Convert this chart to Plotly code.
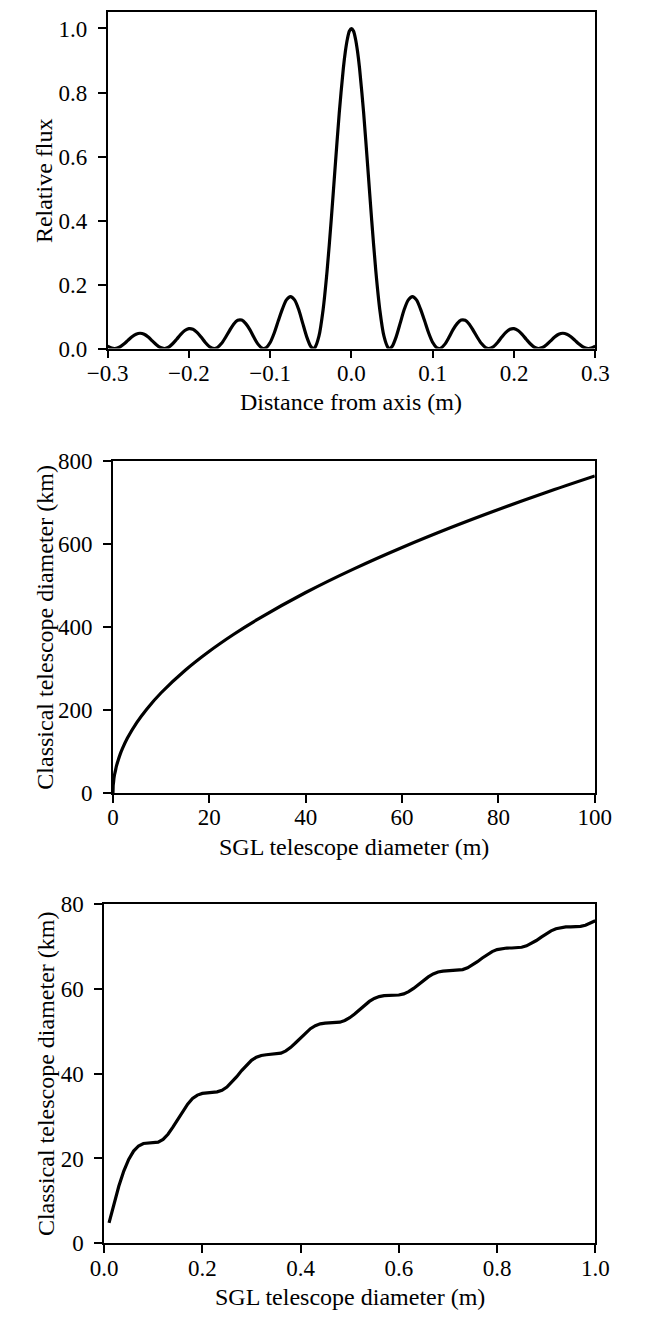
import plotly.graph_objects as go

# ---------------- data ----------------
# Panel 1: relative flux vs distance from axis (m)
distance_m = [-0.3, -0.295, -0.291, -0.285, -0.28, -0.275, -0.27, -0.265, -0.26, -0.255, -0.25,
              -0.245, -0.24, -0.235, -0.23, -0.225, -0.22, -0.215, -0.21, -0.205, -0.2,
              -0.195, -0.19, -0.185, -0.18, -0.175, -0.169, -0.165, -0.16, -0.155, -0.15,
              -0.145, -0.14, -0.135, -0.13, -0.125, -0.12, -0.115, -0.11, -0.108, -0.105,
              -0.1, -0.095, -0.09, -0.085, -0.08, -0.075, -0.07, -0.065, -0.06, -0.055,
              -0.05, -0.047, -0.045, -0.04, -0.035, -0.03, -0.025, -0.02, -0.015, -0.01,
              -0.0075, -0.005, -0.0025, 0.0, 0.0025,
              0.005, 0.0075, 0.01, 0.015, 0.02, 0.025, 0.03, 0.035, 0.04, 0.045, 0.047,
              0.05, 0.055, 0.06, 0.065, 0.07, 0.075, 0.08, 0.085, 0.09, 0.095,
              0.1, 0.105, 0.108, 0.11, 0.115, 0.12, 0.125, 0.13, 0.135, 0.14,
              0.145, 0.15, 0.155, 0.16, 0.165, 0.169, 0.175, 0.18, 0.185, 0.19,
              0.195, 0.2, 0.205, 0.21, 0.215, 0.22, 0.225, 0.23, 0.235, 0.24,
              0.245, 0.25, 0.255, 0.26, 0.265, 0.27, 0.275, 0.28, 0.285, 0.291,
              0.295, 0.3]
relative_flux = [0.0072, 0.0013, 0.0, 0.0048, 0.0139, 0.0256, 0.0368, 0.0449, 0.0477, 0.0444, 0.0357,
                 0.0238, 0.0118, 0.003, 0.0, 0.004, 0.0149, 0.0292, 0.0441, 0.0562, 0.0622,
                 0.0603, 0.0507, 0.0359, 0.0197, 0.0065, 0.0, 0.0031, 0.0154, 0.0345, 0.0562,
                 0.0762, 0.0882, 0.0888, 0.078, 0.0592, 0.0351, 0.0138, 0.0014, 0.0, 0.0024,
                 0.0188, 0.0485, 0.0865, 0.123, 0.152, 0.1622, 0.152, 0.1226, 0.0794, 0.0365,
                 0.0061, 0.0, 0.0028, 0.0385, 0.119, 0.242, 0.398, 0.569, 0.736, 0.875,
                 0.928, 0.967, 0.992, 1.0, 0.992,
                 0.967, 0.928, 0.875, 0.736, 0.569, 0.398, 0.242, 0.119, 0.0385, 0.0028, 0.0,
                 0.0061, 0.0365, 0.0794, 0.1226, 0.152, 0.1622, 0.152, 0.123, 0.0865, 0.0485,
                 0.0188, 0.0024, 0.0, 0.0014, 0.0138, 0.0351, 0.0592, 0.078, 0.0888, 0.0882,
                 0.0762, 0.0562, 0.0345, 0.0154, 0.0031, 0.0, 0.0065, 0.0197, 0.0359, 0.0507,
                 0.0603, 0.0622, 0.0562, 0.0441, 0.0292, 0.0149, 0.004, 0.0, 0.003, 0.0118,
                 0.0238, 0.0357, 0.0444, 0.0477, 0.0449, 0.0368, 0.0256, 0.0139, 0.0048, 0.0,
                 0.0013, 0.0072]

# Panel 2: classical telescope diameter (km) vs SGL telescope diameter (m), 0-100 m
sgl_diam_large_m = [0, 0.01, 0.02, 0.05, 0.1, 0.2, 0.3, 0.5, 0.7, 1, 1.5, 2, 3, 5, 7, 10,
                    15, 20, 25, 30, 40, 50, 60, 70, 80, 90, 100]
classical_diam_large_km = [0, 4.8, 9.4, 19.8, 23.7, 35.3, 43.1, 53.2, 64.2, 76.0, 93.7, 108.1,
                           132.5, 171.0, 202.3, 241.8, 296.2, 342.0, 382.4, 418.8, 483.6,
                           540.7, 592.3, 639.8, 684.0, 725.5, 764.7]

# Panel 3: classical telescope diameter (km) vs SGL telescope diameter (m), 0-1 m
sgl_diam_small_m = [0.01, 0.02, 0.03, 0.04, 0.05, 0.06, 0.07, 0.08, 0.09, 0.10,
                    0.11, 0.12, 0.13, 0.14, 0.15, 0.16, 0.17, 0.18, 0.19, 0.20,
                    0.21, 0.22, 0.23, 0.24, 0.25, 0.26, 0.27, 0.28, 0.29, 0.30,
                    0.31, 0.32, 0.33, 0.34, 0.35, 0.36, 0.37, 0.38, 0.39, 0.40,
                    0.41, 0.42, 0.43, 0.44, 0.45, 0.46, 0.47, 0.48, 0.49, 0.50,
                    0.51, 0.52, 0.53, 0.54, 0.55, 0.56, 0.57, 0.58, 0.59, 0.60,
                    0.61, 0.62, 0.63, 0.64, 0.65, 0.66, 0.67, 0.68, 0.69, 0.70,
                    0.71, 0.72, 0.73, 0.74, 0.75, 0.76, 0.77, 0.78, 0.79, 0.80,
                    0.81, 0.82, 0.83, 0.84, 0.85, 0.86, 0.87, 0.88, 0.89, 0.90,
                    0.91, 0.92, 0.93, 0.94, 0.95, 0.96, 0.97, 0.98, 0.99, 1.00]
classical_diam_small_km = [4.81, 9.39, 13.52, 17.02, 19.78, 21.74, 22.95, 23.52, 23.59, 23.68,
                           23.86, 24.48, 25.70, 27.37, 29.30, 31.22, 32.81, 34.12, 34.93, 35.34,
                           35.55, 35.59, 35.70, 36.08, 36.83, 37.93, 39.28, 40.72, 42.04, 43.12,
                           43.87, 44.28, 44.44, 44.51, 44.57, 44.82, 45.35, 46.18, 47.26, 48.45,
                           49.60, 50.58, 51.29, 51.73, 51.89, 51.93, 51.96, 52.12, 52.51, 53.16,
                           54.05, 55.08, 56.11, 57.01, 57.71, 58.15, 58.36, 58.40, 58.41, 58.52,
                           58.78, 59.31, 60.07, 60.98, 61.92, 62.79, 63.48, 63.93, 64.16, 64.23,
                           64.24, 64.30, 64.51, 64.93, 65.57, 66.37, 67.24, 68.06, 68.75, 69.23,
                           69.49, 69.59, 69.60, 69.63, 69.78, 70.11, 70.65, 71.36, 72.16, 72.95,
                           73.63, 74.13, 74.43, 74.56, 74.58, 74.59, 74.69, 74.95, 75.40, 76.03]

# tick values / labels
p1_xticks = [-0.3, -0.2, -0.1, 0.0, 0.1, 0.2, 0.3]
p1_xlabels = ["\u22120.3", "\u22120.2", "\u22120.1", "0.0", "0.1", "0.2", "0.3"]
p1_yticks = [0.0, 0.2, 0.4, 0.6, 0.8, 1.0]
p1_ylabels = ["0.0", "0.2", "0.4", "0.6", "0.8", "1.0"]
p2_xticks = [0, 20, 40, 60, 80, 100]
p2_yticks = [0, 200, 400, 600, 800]
p3_xticks = [0.0, 0.2, 0.4, 0.6, 0.8, 1.0]
p3_xlabels = ["0.0", "0.2", "0.4", "0.6", "0.8", "1.0"]
p3_yticks = [0, 20, 40, 60, 80]

titles = {
    "p1x": "Distance from axis (m)",
    "p1y": "Relative flux",
    "p2x": "SGL telescope diameter (m)",
    "p2y": "Classical telescope diameter (km)",
    "p3x": "SGL telescope diameter (m)",
    "p3y": "Classical telescope diameter (km)",
}

# ---------------- layout helpers ----------------
W, H = 649, 1326
FONT = "Liberation Serif"
TICK_SIZE = 23
LABEL_SIZE = 24


def xdom(left, right):
    return [left / W, right / W]


def ydom(top, bottom):
    return [1 - bottom / H, 1 - top / H]


def ax_common(standoff):
    return dict(
        showline=True, linecolor="black", linewidth=1.6, mirror=True,
        ticks="outside", ticklen=8, tickwidth=1.6, tickcolor="black",
        showgrid=False, zeroline=False,
        tickfont=dict(family=FONT, size=TICK_SIZE, color="black"),
        ticklabelstandoff=standoff,
        fixedrange=True,
    )


line_style = dict(color="black", width=3.2)
smooth_style = dict(color="black", width=3.2, shape="spline", smoothing=0.8)

fig = go.Figure()
fig.add_trace(go.Scatter(x=distance_m, y=relative_flux, mode="lines", line=smooth_style,
                         xaxis="x", yaxis="y", showlegend=False, hoverinfo="skip"))
fig.add_trace(go.Scatter(x=sgl_diam_large_m, y=classical_diam_large_km, mode="lines",
                         line=smooth_style, xaxis="x2", yaxis="y2", showlegend=False,
                         hoverinfo="skip"))
fig.add_trace(go.Scatter(x=sgl_diam_small_m, y=classical_diam_small_km, mode="lines",
                         line=line_style, xaxis="x3", yaxis="y3", showlegend=False,
                         hoverinfo="skip"))

# panel pixel boxes: (left, right, top, bottom)
box1 = (92, 610, 0.5, 343)
box2 = (97.7, 609.5, 458, 796)
box3 = (88.3, 610, 909, 1255)

XS, YS = -5, 6   # tick label standoffs for x and y axes

fig.update_layout(
    width=W, height=H,
    margin=dict(l=0, r=0, t=0, b=0),
    paper_bgcolor="white", plot_bgcolor="white",
    showlegend=False,
    xaxis=dict(domain=xdom(box1[0], box1[1]), anchor="y", range=[-0.3, 0.3],
               tickvals=p1_xticks, ticktext=p1_xlabels, **ax_common(XS)),
    yaxis=dict(domain=ydom(box1[2], box1[3]), anchor="x", range=[0, 1.05],
               tickvals=p1_yticks, ticktext=p1_ylabels, **ax_common(YS)),
    xaxis2=dict(domain=xdom(box2[0], box2[1]), anchor="y2", range=[0, 100],
                tickvals=p2_xticks, **ax_common(XS)),
    yaxis2=dict(domain=ydom(box2[2], box2[3]), anchor="x2", range=[0, 800],
                tickvals=p2_yticks, **ax_common(YS)),
    xaxis3=dict(domain=xdom(box3[0], box3[1]), anchor="y3", range=[0, 1],
                tickvals=p3_xticks, ticktext=p3_xlabels, **ax_common(XS)),
    yaxis3=dict(domain=ydom(box3[2], box3[3]), anchor="x3", range=[0, 80],
                tickvals=p3_yticks, **ax_common(YS)),
)

lab_font = dict(family=FONT, size=LABEL_SIZE, color="black")


def xtitle(text, box, offset):
    cx = (box[0] + box[1]) / 2 / W
    cy = 1 - (box[3] + offset) / H
    fig.add_annotation(text=text, xref="paper", yref="paper", x=cx, y=cy,
                       xanchor="center", yanchor="middle", showarrow=False, font=lab_font)


def ytitle(text, box, xpx):
    cy = 1 - (box[2] + box[3]) / 2 / H
    fig.add_annotation(text=text, xref="paper", yref="paper", x=xpx / W, y=cy,
                       xanchor="center", yanchor="middle", textangle=-90,
                       showarrow=False, font=lab_font)


xtitle(titles["p1x"], box1, 55)
ytitle(titles["p1y"], box1, 24)
xtitle(titles["p2x"], box2, 55)
ytitle(titles["p2y"], box2, 26)
xtitle(titles["p3x"], box3, 55)
ytitle(titles["p3y"], box3, 26)

# remove the browser's default 8px body margin so the figure sits at the page origin
fig.write_html("out.html", config={"displayModeBar": False},
               post_script="document.body.style.margin='0px';")
